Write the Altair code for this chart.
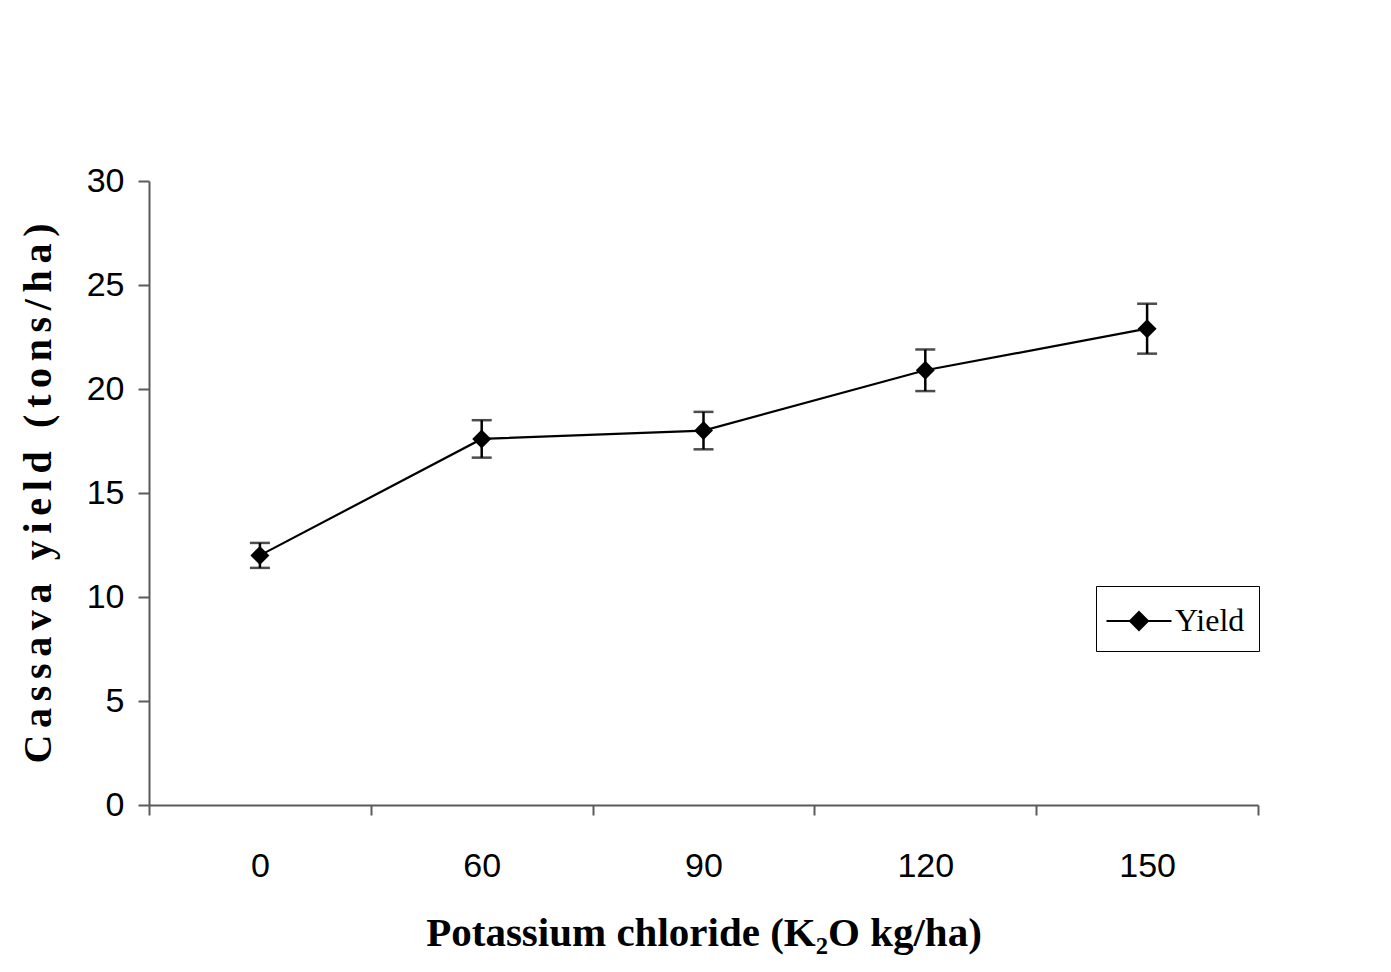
import altair as alt
import pandas as pd

# ---- data ----
categories = ["0", "60", "90", "120", "150"]
yield_means = [12.0, 17.6, 18.0, 20.9, 22.9]
yield_errors = [0.6, 0.9, 0.9, 1.0, 1.2]
series_name = "Yield"
y_ticks = [0, 5, 10, 15, 20, 25, 30]

x_title = "Potassium chloride (K\u2082O kg/ha)"
y_title_words = "Cassava yield (tons/ha)"
y_title = "\u2006".join(list(y_title_words))

df = pd.DataFrame({
    "dose": categories,
    "yield": yield_means,
    "err": yield_errors,
    "series": [series_name] * len(categories),
})
df["lo"] = df["yield"] - df["err"]
df["hi"] = df["yield"] + df["err"]

AXIS_GREY = "#5a5a5a"
TICK_FONT = "Liberation Sans Narrow, Arial Narrow, Liberation Sans, sans-serif"
SERIF = "Liberation Serif, Times New Roman, serif"

x_scale = alt.Scale(type="band", paddingInner=0, paddingOuter=0, domain=categories)
y_scale = alt.Scale(domain=[0, 30], nice=False, zero=True)

x_axis = alt.Axis(
    title=x_title,
    titleFont=SERIF, titleFontSize=41, titleFontWeight="bold", titleColor="black",
    titleBaseline="alphabetic", titleY=140,
    labelFont=TICK_FONT, labelFontSize=34, labelColor="black", labelAngle=0,
    labelBaseline="alphabetic", labelPadding=61,
    tickBand="extent", tickSize=10, tickColor=AXIS_GREY, tickWidth=2,
    domainColor=AXIS_GREY, domainWidth=2, grid=False,
)
y_axis = alt.Axis(
    title=y_title, values=y_ticks,
    titleFont=SERIF, titleFontSize=40, titleFontWeight="bold", titleColor="black",
    titleBaseline="alphabetic", titleX=-99, titleAngle=270,
    labelFont=TICK_FONT, labelFontSize=34, labelColor="black",
    labelPadding=14,
    tickSize=11, tickColor=AXIS_GREY, tickWidth=2,
    domainColor=AXIS_GREY, domainWidth=2, grid=False,
)

base = alt.Chart(df)

line = base.mark_line(color="black", strokeWidth=2.2).encode(
    x=alt.X("dose:N", sort=categories, scale=x_scale, axis=x_axis),
    y=alt.Y("yield:Q", scale=y_scale, axis=y_axis),
)

bars = base.mark_rule(color="black", strokeWidth=2.5).encode(
    x=alt.X("dose:N", sort=categories, scale=x_scale),
    y="lo:Q",
    y2="hi:Q",
)

caps_hi = base.mark_tick(color="black", size=20, thickness=2.5, orient="horizontal").encode(
    x=alt.X("dose:N", sort=categories, scale=x_scale),
    y="hi:Q",
)
caps_lo = base.mark_tick(color="black", size=20, thickness=2.5, orient="horizontal").encode(
    x=alt.X("dose:N", sort=categories, scale=x_scale),
    y="lo:Q",
)

points = base.mark_point(
    shape="diamond", filled=True, size=260, opacity=1,
    stroke="black", strokeWidth=2,
).encode(
    x=alt.X("dose:N", sort=categories, scale=x_scale),
    y="yield:Q",
    color=alt.Color(
        "series:N",
        scale=alt.Scale(range=["black"]),
        legend=alt.Legend(
            title=None,
            orient="none",
            legendX=947,
            legendY=405,
            symbolType="M-1.625,0L1.625,0M0,-0.45L0.45,0L0,0.45L-0.45,0Z",
            symbolSize=1600,
            symbolOffset=8,
            symbolStrokeWidth=2,
            symbolStrokeColor="black",
            symbolFillColor="black",
            symbolOpacity=1,
            labelFont=SERIF,
            labelFontSize=32,
            labelColor="black",
            labelOffset=15,
            padding=14,
            fillColor="white",
            strokeColor="black",
        ),
    ),
)

chart = (
    alt.layer(line, bars, caps_hi, caps_lo, points)
    .properties(
        width=1109,
        height=624,
        autosize=alt.AutoSizeParams(type="none"),
        padding={"left": 149, "top": 181, "right": 133, "bottom": 167},
        background="white",
    )
    .configure_view(stroke=None)
)

chart.save("out.html", embed_options={"renderer": "svg", "actions": False})
